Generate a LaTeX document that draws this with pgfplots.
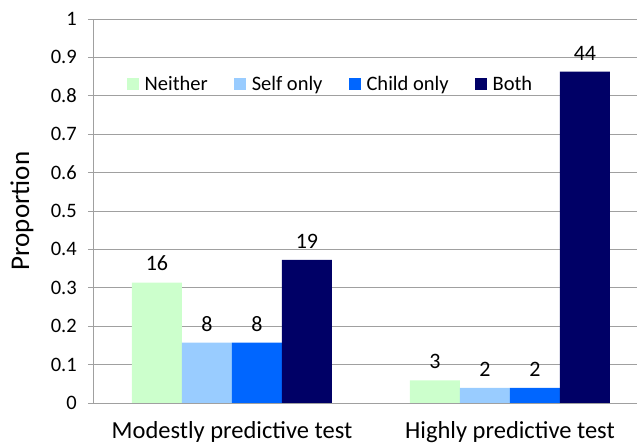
\documentclass[border=0pt]{standalone}
\usepackage{pgfplots}
\pgfplotsset{compat=1.18}
\usepackage{fontspec}
\setmainfont{Carlito}
\definecolor{cNeither}{HTML}{CCFFCC}
\definecolor{cSelf}{HTML}{99CCFF}
\definecolor{cChild}{HTML}{0066FF}
\definecolor{cBoth}{HTML}{000066}
\definecolor{gridc}{HTML}{A0A0A0}
\begin{document}
\begin{tikzpicture}
\begin{axis}[
  scale only axis,
  width=544pt, height=384pt,
  xmin=-0.5, xmax=1.457,
  ymin=0, ymax=1,
  ybar=0pt, bar width=50pt,
  axis line style={gridc},
  axis x line*=bottom,
  axis y line*=left,
  ytick={0,0.1,...,1.0},
  yticklabel style={/pgf/number format/fixed,/pgf/number format/precision=1,font=\fontsize{20.5}{24}\selectfont, inner sep=0pt, xshift=-11pt},
  /pgf/number format/assume math mode=true,
  ymajorgrids,
  grid style={gridc, line width=0.8pt},
  tick align=outside,
  major tick length=5pt,
  tick style={gridc, line width=0.8pt},
  xtick={0,1},
  xticklabels={Modestly predictive test, Highly predictive test},
  x tick style={draw=none},
  extra x ticks={-0.5,0.5},
  extra x tick labels={},
  extra x tick style={tick style={gridc, line width=0.8pt}, major tick length=8pt, grid=none},
  xticklabel style={font=\fontsize{24.5}{30}\selectfont, yshift=-10pt},
  every axis y label/.style={at={(axis description cs:0,0.5)}, xshift=-71pt, rotate=90, anchor=center, font=\fontsize{27}{32}\selectfont},
  ylabel={Proportion},
  point meta=explicit symbolic,
  nodes near coords={\pgfplotspointmeta},
  every node near coord/.append style={font=\fontsize{22}{26}\selectfont, black, yshift=8pt},
  legend columns=4,
  legend style={draw=none, fill=none, at={(axis description cs:0.056,0.862)}, anchor=north west,
    font=\fontsize{20.5}{24}\selectfont,
    /tikz/every even column/.append style={column sep=24pt}},
  legend image code/.code={\fill[#1] (0pt,-6pt) rectangle (12pt,6pt); \path (16pt,0pt);},
  clip=false,
]
\addplot[fill=cNeither, draw=none] coordinates {(0,0.3137) [16] (1,0.0588) [3]};
\addplot[fill=cSelf, draw=none] coordinates {(0,0.1569) [8] (1,0.0392) [2]};
\addplot[fill=cChild, draw=none] coordinates {(0,0.1569) [8] (1,0.0392) [2]};
\addplot[fill=cBoth, draw=none] coordinates {(0,0.3725) [19] (1,0.8627) [44]};
\legend{Neither, Self only, Child only, Both}
\end{axis}
\pgfresetboundingbox
\path[use as bounding box] ([shift={(-93pt,-43pt)}]current axis.south west) rectangle ([shift={(0pt,19pt)}]current axis.north east);
\end{tikzpicture}
\end{document}
